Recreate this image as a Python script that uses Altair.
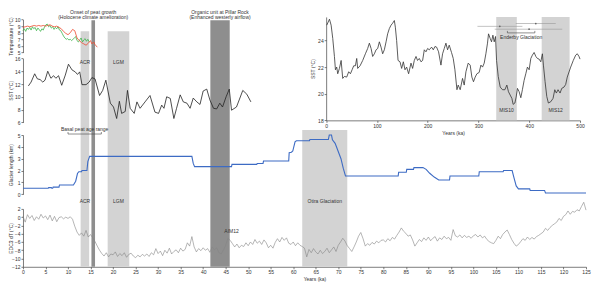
import altair as alt
import pandas as pd

FONT = "Liberation Sans"
INK = "#333333"
W, H = 564, 257

# ---------------- data ----------------
# Temperature (°C) records, 0-16.5 ka
red_ka = [0.0, 0.5, 1.0, 1.5, 2.0, 2.5, 3.0, 3.5, 4.0, 4.5,
          5.0, 5.5, 6.0, 6.5, 7.0, 7.5, 8.0, 8.5, 9.0, 9.5,
          10.0, 10.5, 11.0, 11.5, 12.0, 12.5, 13.0, 13.5, 14.0, 14.5,
          15.0, 15.3, 15.7, 16.0, 16.5]
red_t = [8.8, 8.9, 9.0, 8.9, 9.0, 9.1, 9.0, 9.1, 9.0, 9.1,
         9.0, 9.1, 9.2, 9.0, 8.9, 9.0, 8.8, 8.6, 8.2, 7.9,
         7.7, 8.0, 8.5, 8.3, 7.2, 6.8, 6.5, 6.3, 6.1, 6.4,
         6.8, 6.3, 6.6, 6.2, 5.8]
green_ka = [0.0, 0.3, 0.6, 0.9, 1.2, 1.5, 1.8, 2.1, 2.4, 2.7,
            3.0, 3.3, 3.6, 3.9, 4.2, 4.5, 4.8, 5.1, 5.4, 5.7,
            6.0, 6.3, 6.6, 6.9, 7.2, 7.5, 7.8, 8.1, 8.4, 8.7,
            9.0, 9.3, 9.6, 9.9, 10.2, 10.5, 10.8, 11.1, 11.4, 11.7,
            12.0, 12.3, 12.6, 12.9, 13.2, 13.5, 13.8, 14.1, 14.4, 14.7]
green_t = [8.3, 8.6, 8.2, 8.7, 8.5, 8.8, 8.4, 8.9, 8.6, 8.8,
           8.3, 8.7, 8.5, 8.2, 8.6, 8.4, 8.9, 9.2, 9.3, 8.9,
           9.1, 8.7, 8.9, 8.5, 8.8, 8.6, 8.9, 8.4, 8.3, 7.9,
           7.5, 7.2, 7.0, 7.1, 6.9, 7.0, 6.8, 7.0, 7.2, 7.4,
           6.8, 6.6, 6.9, 7.2, 6.6, 6.9, 7.1, 6.7, 7.0, 6.6]

# SST (°C), 1-51 ka
sst_ka = [1.2, 1.8, 2.6, 3.2, 3.8, 4.4, 4.9, 5.5, 6.2, 6.8,
          7.3, 7.9, 8.6, 9.4, 10.1, 10.9, 11.6, 12.1, 12.6, 13.1,
          14.0, 14.7, 15.3, 16.0, 17.0, 17.7, 18.4, 19.4, 20.1, 20.8,
          21.4, 21.9, 22.7, 23.2, 23.8, 24.7, 25.3, 26.0, 27.1, 28.2,
          29.3, 30.1, 30.8, 31.3, 31.9, 32.7, 33.5, 34.1, 34.9, 35.6,
          36.4, 37.1, 37.8, 38.6, 39.3, 40.0, 40.8, 41.5, 42.3, 43.0,
          43.7, 44.3, 45.1, 45.8, 46.3, 47.4, 48.0, 48.8, 49.7, 50.6]
sst_c = [11.7, 12.3, 13.6, 12.8, 12.7, 12.3, 12.6, 14.0, 12.9, 13.3,
         12.9, 13.3, 11.8, 13.4, 15.1, 14.2, 13.9, 13.5, 13.9, 11.9,
         11.9, 12.3, 13.0, 12.8, 10.2, 11.0, 12.6, 9.0, 8.4, 6.6,
         9.3, 7.4, 7.7, 11.0, 8.2, 7.4, 9.2, 8.2, 9.2, 10.2,
         7.6, 7.4, 8.7, 8.2, 10.0, 9.75, 6.6, 8.2, 10.3, 9.2,
         9.0, 8.2, 9.8, 9.2, 8.8, 10.9, 11.2, 9.5, 8.2, 8.1,
         9.0, 8.4, 10.0, 11.2, 7.9, 8.4, 9.5, 11.0, 10.4, 9.2]

# Glacier length (km), 0-125 ka
glacier_ka = [0, 5.6, 5.7, 6.3, 6.4, 6.6, 6.7, 8.0, 8.1, 11.2,
              11.7, 12.1, 12.4, 13.0, 13.1, 14.2, 14.4, 14.8, 37.5, 37.8,
              38.1, 46.3, 46.4, 51.9, 52.0, 53.3, 53.4, 59.0, 59.1, 59.6,
              59.9, 60.4, 60.7, 63.6, 63.7, 67.8, 68.0, 68.5, 68.7, 69.3,
              69.7, 70.2, 70.6, 71.1, 71.6, 83.3, 83.4, 85.1, 85.2, 86.7,
              86.8, 88.8, 89.5, 90.3, 91.3, 92.3, 94.7, 94.8, 101.2, 101.3,
              106.6, 106.7, 108.6, 109.0, 109.5, 110.0, 112.5, 112.6, 115.8, 116.0,
              125.0]
glacier_km = [0.5, 0.5, 0.56, 0.56, 0.5, 0.5, 0.6, 0.6, 0.78, 0.78,
              1.1, 1.75, 1.9, 1.9, 2.0, 2.0, 2.75, 3.2, 3.2, 2.6,
              2.33, 2.33, 2.52, 2.52, 2.6, 2.6, 2.8, 2.8, 3.5, 3.55,
              3.65, 4.43, 4.52, 4.52, 4.62, 4.62, 5.0, 5.0, 4.6, 4.3,
              3.9, 3.4, 3.0, 2.2, 1.54, 1.54, 1.85, 1.85, 2.1, 2.1,
              2.25, 2.25, 2.1, 1.77, 1.45, 1.2, 1.2, 1.54, 1.54, 1.9,
              1.9, 2.0, 2.0, 1.4, 0.7, 0.45, 0.45, 0.32, 0.32, 0.1,
              0.1]

# EDC3 dT (°C), every 0.5 ka from 0 to 125 ka
edc_ka = [i * 0.5 for i in range(251)]
edc_dt = [0.2, -1.2, 0.6, -0.3, 0.4, -0.8, 0.1, -0.5, 0.7, -0.2,
          0.3, -0.6, 0.5, -0.9, 0.2, -1.1, -0.1, 0.1, -0.4, 0.0,
          -0.3, 0.1, -0.5, -2.2, -3.6, -4.4, -3.8, -4.6, -3.2, -4.8,
          -4.2, -5.0, -5.9, -7.0, -8.0, -8.8, -9.4, -8.6, -9.6, -8.9,
          -9.1, -8.4, -9.5, -8.8, -9.3, -8.6, -9.7, -9.0, -8.7, -9.4,
          -9.8, -9.2, -9.6, -9.0, -9.4, -8.9, -9.5, -8.6, -9.1, -7.6,
          -8.8, -8.2, -9.3, -8.0, -8.7, -7.5, -8.9, -8.3, -7.9, -8.6,
          -7.5, -8.2, -7.8, -6.2, -7.0, -4.7, -7.2, -8.4, -7.6, -8.1,
          -7.4, -8.0, -7.6, -8.5, -7.2, -7.9, -7.4, -8.6, -8.9, -8.0,
          -6.8, -5.1, -5.6, -6.4, -7.2, -6.5, -7.4, -6.8, -7.1, -6.2,
          -6.9, -6.0, -6.6, -5.4, -6.3, -5.8, -6.6, -5.5, -6.2, -7.4,
          -6.8, -7.5, -6.1, -5.2, -6.0, -4.9, -5.6, -5.0, -6.3, -6.6,
          -6.0, -6.9, -6.2, -6.8, -7.1, -7.5, -9.6, -7.8, -8.6, -7.6,
          -8.4, -8.9, -8.0, -8.8, -8.3, -7.5, -8.6, -7.9, -7.2, -8.3,
          -6.8, -6.0, -5.1, -5.8, -6.9, -7.6, -8.3, -7.2, -6.0, -4.6,
          -3.7, -5.2, -7.0, -6.4, -6.8, -6.1, -6.5, -5.8, -6.2, -5.6,
          -5.5, -6.0, -5.2, -5.7, -4.9, -5.3, -4.4, -3.6, -2.6, -3.4,
          -3.9, -4.6, -4.3, -5.5, -7.0, -6.2, -5.4, -5.9, -5.0, -5.6,
          -4.8, -5.7, -5.1, -4.7, -5.8, -5.0, -5.4, -4.6, -5.2, -4.9,
          -5.6, -3.0, -4.5, -4.8, -4.3, -5.0, -4.4, -4.9, -4.6, -5.1,
          -4.5, -4.2, -4.8, -4.3, -5.0, -4.6, -5.4, -5.9, -6.2, -6.4,
          -5.6, -4.6, -5.2, -4.2, -3.6, -3.1, -4.2, -5.4, -6.3, -7.0,
          -6.6, -5.9, -5.2, -5.6, -4.8, -5.4, -4.9, -5.3, -4.7, -4.4,
          -4.0, -3.6, -2.7, -3.2, -2.5, -2.0, -1.6, -1.2, -0.3, -0.8,
          0.2, 0.6, 1.5, 0.7, 1.4, 1.2, 1.8, 1.5, 2.6, 3.6,
          1.7]

# Inset: SST (°C), 0-500 ka
inset_ka = [1.2, 6.5, 9.8, 13, 16.3, 18.3, 20.8, 22.8, 26.1, 29.5,
            32.6, 36, 40.5, 44.4, 47.8, 51.1, 54.3, 57.6, 60.2, 62.1,
            66.8, 72, 77.3, 81.8, 85.1, 88.5, 91.6, 95, 98.3, 101.5,
            104.8, 108.1, 111.3, 114.6, 118, 121.1, 124.5, 127.8, 131, 134.3,
            136.3, 138.8, 141.6, 145.5, 148.7, 152, 155.3, 158.5, 162.4, 167.1,
            170.3, 173.6, 177, 180, 183.4, 186.8, 190, 193.3, 196.6, 199.8,
            203.1, 207.6, 211, 214.3, 217.5, 221.4, 226.1, 229.3, 232.6, 235.9,
            239.1, 242.4, 246.9, 250.3, 253.6, 257.6, 260.1, 264, 268.6, 271.9,
            275.3, 279.8, 283.7, 287, 290.2, 293.5, 296.9, 301.4, 304.8, 308,
            311.3, 314.6, 317.8, 319.8, 323.1, 325.7, 328.4, 331, 333.6, 335.6,
            338.9, 342.8, 347.4, 352, 355.9, 359.1, 362.4, 365.8, 368.3, 371.7,
            374.2, 376.8, 380.1, 383.4, 386.5, 389.9, 393.2, 396.4, 399.8, 403.1,
            406.2, 409.6, 413, 416.1, 419.4, 422.7, 425.9, 427.9, 431.2, 434.5,
            437.7, 442.4, 446.9, 450.3, 453.4, 456.7, 460.7, 464, 468.5, 471.8,
            474.9, 481.6, 486.7, 491.5, 494.6, 498, 500]
inset_sst = [25.15, 25.6, 25.15, 24.15, 22.8, 21.8, 22.0, 21.5, 21.9, 22.5,
             21.15, 21.3, 21.25, 21.65, 21.5, 21.8, 22.1, 22.1, 22.65, 21.9,
             22.1, 22.5, 23.0, 23.4, 23.8, 23.4, 22.8, 23.0, 23.3, 23.4,
             23.9, 23.5, 23.0, 23.3, 23.9, 24.5, 24.9, 25.15, 25.3, 25.5,
             25.0, 24.0, 22.5, 22.4, 21.9, 22.4, 21.8, 22.0, 21.5, 22.3,
             21.9, 22.5, 22.8, 22.5, 22.65, 22.4, 22.5, 23.3, 23.15, 23.4,
             23.3, 23.5, 23.3, 23.55, 23.5, 23.15, 22.15, 23.0, 23.4, 23.8,
             23.3, 23.65, 23.1, 22.65, 21.8, 20.3, 20.65, 20.3, 21.15, 20.65,
             21.65, 22.3, 22.15, 21.25, 20.9, 21.25, 21.5, 21.6, 22.15, 22.0,
             22.3, 23.0, 23.8, 24.5, 24.15, 23.9, 24.4, 23.9, 24.3, 22.5,
             21.3, 20.5, 20.3, 20.3, 20.65, 20.15, 19.9, 19.65, 19.2, 19.3,
             19.75, 20.4, 20.15, 19.7, 20.3, 21.0, 21.5, 22.0, 21.8, 22.65,
             22.9, 23.1, 22.8, 22.65, 22.6, 22.4, 23.0, 22.15, 20.9, 19.8,
             19.3, 19.4, 19.65, 20.3, 20.05, 20.3, 20.05, 20.4, 20.5, 20.7,
             21.25, 22.0, 22.5, 22.9, 23.0, 22.8, 22.6]

# Shaded intervals (ka)
light_start = [12.8, 18.8]
light_end = [14.7, 23.6]
light_label = ["ACR", "LGM"]
dark_start = [15.2, 41.6]
dark_end = [16.0, 45.9]
dark_label = ["Onset of peat growth\n(Holocene climate amelioration)",
              "Organic unit at Pillar Rock\n(Enhanced westerly airflow)"]
otira_start = [62.0]
otira_end = [72.0]
otira_label = ["Otira Glaciation"]
mis_start = [335.0, 424.5]
mis_end = [375.5, 479.5]
mis_label = ["MIS10", "MIS12"]

basal_start = [10.0]
basal_end = [17.4]
basal_label = ["Basal peat age range"]
aim_ka = [46.3]
aim_label = ["AIM12"]

# Enderby Glaciation ages (inset)
age_mid = [412.9, 342.0, 399.7]
age_lo = [373.5, 298.0, 332.0]
age_hi = [452.2, 386.5, 465.0]
age_row = [1, 2, 3]
enderby_start = [357.0]
enderby_end = [411.0]
enderby_label = ["Enderby Glaciation"]

# ---------------- helpers ----------------
MAIN = [0, 125]
INSET = [0, 500]
R_INSET_X = [303.7, 558.0]
R_TEMP = [42.3, 9.3]
R_SST = [112.3, 48.3]
R_GL = [184.3, 125.0]
R_EDC = [257.0, 199.0]
R_INSET_Y = [110.3, 6.7]


def sc(domain, rng=None):
    if rng is None:
        return alt.Scale(domain=domain, nice=False, zero=False)
    return alt.Scale(domain=domain, range=rng, nice=False, zero=False)


def ax(orient, title, values, offset=0, **kw):
    return alt.Axis(orient=orient, title=title, values=values, offset=offset,
                    grid=False, labelFontSize=5, titleFontSize=5, labelFont=FONT,
                    titleFont=FONT, titleFontWeight="normal", tickSize=2,
                    tickWidth=0.7, domainWidth=0.7, domainColor="#444",
                    tickColor="#444", labelColor=INK, titleColor=INK,
                    labelPadding=1, titlePadding=2, labelFlush=False,
                    labelOverlap=False, **kw)


def xm(field, axis=None):
    return alt.X(field, type="quantitative", scale=sc(MAIN), axis=axis)


def xi(field, axis=None):
    return alt.X(field, type="quantitative", scale=sc(INSET, R_INSET_X), axis=axis)


def txt(**kw):
    base = dict(font=FONT, fontSize=5, color=INK)
    base.update(kw)
    return base


light_df = pd.DataFrame({"start": light_start, "end": light_end, "label": light_label})
dark_df = pd.DataFrame({"start": dark_start, "end": dark_end, "label": dark_label})
otira_df = pd.DataFrame({"start": otira_start, "end": otira_end, "label": otira_label})
mis_df = pd.DataFrame({"start": mis_start, "end": mis_end, "label": mis_label})
basal_df = pd.DataFrame({"start": basal_start, "end": basal_end, "label": basal_label})
aim_df = pd.DataFrame({"ka": aim_ka, "label": aim_label})
age_df = pd.DataFrame({"mid": age_mid, "lo": age_lo, "hi": age_hi, "row": age_row})
end_df = pd.DataFrame({"start": enderby_start, "end": enderby_end, "label": enderby_label})

red_df = pd.DataFrame({"ka": red_ka, "v": red_t})
green_df = pd.DataFrame({"ka": green_ka, "v": green_t})
sst_df = pd.DataFrame({"ka": sst_ka, "v": sst_c})
gl_df = pd.DataFrame({"ka": glacier_ka, "v": glacier_km})
edc_df = pd.DataFrame({"ka": edc_ka, "v": edc_dt})
ins_df = pd.DataFrame({"ka": inset_ka, "v": inset_sst})

LIGHT = "#d3d3d3"
DARK = "#8e8e8e"

layers = []
# bands
layers.append(alt.Chart(light_df).mark_rect(color=LIGHT).encode(
    x=xm("start"), x2="end", y=alt.value(21), y2=alt.value(H)))
layers.append(alt.Chart(otira_df).mark_rect(color=LIGHT).encode(
    x=xm("start"), x2="end", y=alt.value(120), y2=alt.value(H)))
layers.append(alt.Chart(dark_df).mark_rect(color=DARK).encode(
    x=xm("start"), x2="end", y=alt.value(10), y2=alt.value(H)))
layers.append(alt.Chart(mis_df).mark_rect(color=LIGHT).encode(
    x=xi("start"), x2="end", y=alt.value(6.7), y2=alt.value(110.3)))

# temperature
layers.append(alt.Chart(green_df).mark_line(color="#3cb44b", strokeWidth=0.8).encode(
    x=xm("ka"), y=alt.Y("v:Q", scale=sc([5, 10], R_TEMP), axis=None)))
layers.append(alt.Chart(red_df).mark_line(color="#ee4a2f", strokeWidth=0.8).encode(
    x=xm("ka"), y=alt.Y("v:Q", scale=sc([5, 10], R_TEMP),
                        axis=ax("left", "Temperature (°C)", [5, 6, 7, 8, 9, 10], titleX=-9))))
# SST
layers.append(alt.Chart(sst_df).mark_line(color="#222222", strokeWidth=0.8).encode(
    x=xm("ka"), y=alt.Y("v:Q", scale=sc([6, 16], R_SST),
                        axis=ax("left", "SST (°C)", [6, 8, 10, 12, 14, 16], titleX=-9))))
# glacier
layers.append(alt.Chart(gl_df).mark_line(color="#3d6bc4", strokeWidth=1.1).encode(
    x=xm("ka"), y=alt.Y("v:Q", scale=sc([0, 5], R_GL),
                        axis=ax("left", "Glacier length (km)", [0, 1, 2, 3, 4, 5], titleX=-9))))
# EDC
layers.append(alt.Chart(edc_df).mark_line(color="#858585", strokeWidth=0.6).encode(
    x=xm("ka", axis=ax("bottom", "Years (ka)", list(range(0, 126, 5)), titleX=292)),
    y=alt.Y("v:Q", scale=sc([-12, 2], R_EDC),
            axis=ax("left", "EDC3 dT (°C)", [-12, -10, -8, -6, -4, -2, 0, 2], titleX=-9))))
# inset
layers.append(alt.Chart(ins_df).mark_line(color="#333333", strokeWidth=0.8).encode(
    x=xi("ka", axis=ax("bottom", "Years (ka)", [0, 100, 200, 300, 400, 500], offset=-146.7)),
    y=alt.Y("v:Q", scale=sc([18, 25.77], R_INSET_Y),
            axis=ax("left", "SST (°C)", [18, 20, 22, 24], offset=-303.7))))

# labels
layers.append(alt.Chart(light_df).mark_text(**txt()).transform_calculate(
    mid="(datum.start + datum.end) / 2").encode(
    x=xm("mid"), y=alt.value(52.3), text="label:N"))
layers.append(alt.Chart(light_df).mark_text(**txt()).transform_calculate(
    mid="(datum.start + datum.end) / 2").encode(
    x=xm("mid"), y=alt.value(191), text="label:N"))
layers.append(alt.Chart(otira_df).mark_text(**txt()).transform_calculate(
    mid="(datum.start + datum.end) / 2").encode(
    x=xm("mid"), y=alt.value(191), text="label:N"))
layers.append(alt.Chart(dark_df).mark_text(**txt(lineBreak="\n", baseline="top", lineHeight=5)).transform_calculate(
    mid="(datum.start + datum.end) / 2").encode(
    x=xm("mid"), y=alt.value(-0.6), text="label:N"))
layers.append(alt.Chart(mis_df).mark_text(**txt()).transform_calculate(
    mid="(datum.start + datum.end) / 2").encode(
    x=xi("mid"), y=alt.value(100.3), text="label:N"))
layers.append(alt.Chart(aim_df).mark_text(**txt()).encode(
    x=xm("ka"), y=alt.value(220.7), text="label:N"))

# basal peat bracket
layers.append(alt.Chart(basal_df).mark_text(**txt()).transform_calculate(
    mid="(datum.start + datum.end) / 2").encode(
    x=xm("mid"), y=alt.value(119.3), text="label:N"))
layers.append(alt.Chart(basal_df).mark_rule(color="#444", strokeWidth=0.6).encode(
    x=xm("start"), x2="end", y=alt.value(124)))
layers.append(alt.Chart(basal_df).mark_rule(color="#444", strokeWidth=0.6).encode(
    x=xm("start"), y=alt.value(122), y2=alt.value(124)))
layers.append(alt.Chart(basal_df).mark_rule(color="#444", strokeWidth=0.6).encode(
    x=xm("end"), y=alt.value(122), y2=alt.value(124)))

# Enderby ages & bracket (inset)
AGE_Y = alt.Y("row:Q", scale=sc([1, 3], [13.3, 19.0]), axis=None)
layers.append(alt.Chart(age_df).mark_rule(color="#999", strokeWidth=0.6).encode(
    x=xi("lo"), x2="hi", y=AGE_Y))
layers.append(alt.Chart(age_df).mark_circle(color="#666", size=3, opacity=1).encode(
    x=xi("mid"), y=AGE_Y))
layers.append(alt.Chart(end_df).mark_rule(color="#444", strokeWidth=0.6).encode(
    x=xi("start"), x2="end", y=alt.value(22.7)))
layers.append(alt.Chart(end_df).mark_rule(color="#444", strokeWidth=0.6).encode(
    x=xi("start"), y=alt.value(20.7), y2=alt.value(22.7)))
layers.append(alt.Chart(end_df).mark_rule(color="#444", strokeWidth=0.6).encode(
    x=xi("end"), y=alt.value(20.7), y2=alt.value(22.7)))
layers.append(alt.Chart(end_df).mark_text(**txt()).transform_calculate(
    mid="(datum.start + datum.end) / 2").encode(
    x=xi("mid"), y=alt.value(26.7), text="label:N"))

chart = alt.layer(*layers).resolve_scale(
    x="independent", y="independent"
).properties(
    width=W, height=H,
    autosize=alt.AutoSizeParams(type="none"),
    padding={"left": 15, "top": 2, "right": 6, "bottom": 22},
    background="white",
).configure_view(stroke=None)

chart.save("out.html", embed_options={"renderer": "svg", "actions": False})
